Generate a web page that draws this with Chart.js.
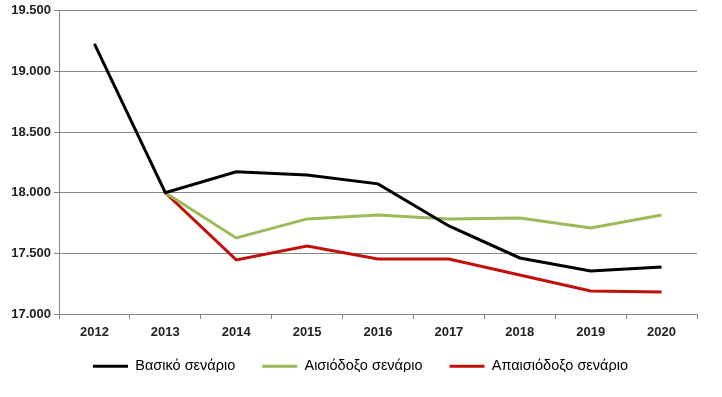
<!DOCTYPE html>
<html>
<head>
<meta charset="utf-8">
<script src="https://cdn.jsdelivr.net/npm/chart.js@4.4.0/dist/chart.umd.min.js"></script>
<style>
  html, body { margin: 0; padding: 0; background: #fff; }
  #wrap { width: 722px; height: 397px; }
</style>
</head>
<body>
<div id="wrap"><canvas id="chart" width="722" height="397"></canvas></div>
<script>
const years = ['2012', '2013', '2014', '2015', '2016', '2017', '2018', '2019', '2020'];
const basic = [19228, 18000, 18172, 18147, 18073, 17726, 17462, 17355, 17388];
const optimistic = [null, 18000, 17627, 17784, 17817, 17784, 17792, 17710, 17817];
const pessimistic = [null, 18000, 17446, 17561, 17454, 17454, 17322, 17190, 17182];
const seriesNames = ['Βασικό σενάριο', 'Αισιόδοξο σενάριο', 'Απαισιόδοξο σενάριο'];
const yMin = 17000, yMax = 19500, yStep = 500;

const gridColor = '#868686';
const legendTop = 332;
const legendShiftX = 12;
// 17000 -> 17.000
const fmt = v => String(Math.round(v)).replace(/\B(?=(\d{3})+(?!\d))/g, '.');

function line(label, data, color) {
  return {
    label, data,
    borderColor: color,
    backgroundColor: color,
    borderWidth: 3,
    pointRadius: 0,
    tension: 0
  };
}

// fixed legend height, then move it up under the axis labels
const legendPlace = {
  id: 'legendPlace',
  afterInit(chart) {
    const lg = chart.legend;
    const fit = lg.fit.bind(lg);
    lg.fit = function () { fit(); this.height = 40; };
  },
  afterLayout(chart) {
    const lg = chart.legend;
    const d = legendTop - lg.top;
    lg.top += d;
    lg.bottom += d;
    lg.left += legendShiftX;
    lg.right += legendShiftX;
  }
};

new Chart(document.getElementById('chart').getContext('2d'), {
  type: 'line',
  data: {
    labels: years,
    datasets: [
      line(seriesNames[0], basic, '#000000'),
      line(seriesNames[1], optimistic, '#9BBB59'),
      line(seriesNames[2], pessimistic, '#C0100C')
    ]
  },
  plugins: [legendPlace],
  options: {
    responsive: false,
    animation: false,
    layout: { padding: { top: 7, right: 25, left: 0, bottom: 15 } },
    plugins: {
      tooltip: { enabled: false },
      legend: {
        position: 'bottom',
        labels: {
          boxWidth: 35,
          boxHeight: 3,
          padding: 27,
          color: '#000',
          font: { family: '"Liberation Sans", Arial, sans-serif', size: 14.5 },
          generateLabels(chart) {
            const items = Chart.defaults.plugins.legend.labels.generateLabels(chart);
            items.forEach(it => { it.lineWidth = 0; });
            return items;
          }
        }
      }
    },
    scales: {
      x: {
        offset: true,
        grid: { offset: true, drawOnChartArea: false, drawTicks: true, tickLength: 5, color: gridColor },
        border: { color: gridColor },
        ticks: { color: '#222', padding: 6, font: { family: '"Liberation Sans", Arial, sans-serif', size: 13, weight: 'bold' } },
        afterFit(scale) { scale.height = 28; }
      },
      y: {
        min: yMin, max: yMax,
        grid: { color: gridColor, tickLength: 5 },
        border: { color: gridColor },
        ticks: {
          stepSize: yStep,
          padding: 3,
          color: '#222',
          font: { family: '"Liberation Sans", Arial, sans-serif', size: 13, weight: 'bold' },
          callback: v => fmt(v)
        },
        afterFit(scale) { scale.width = 59; }
      }
    }
  }
});
</script>
</body>
</html>
